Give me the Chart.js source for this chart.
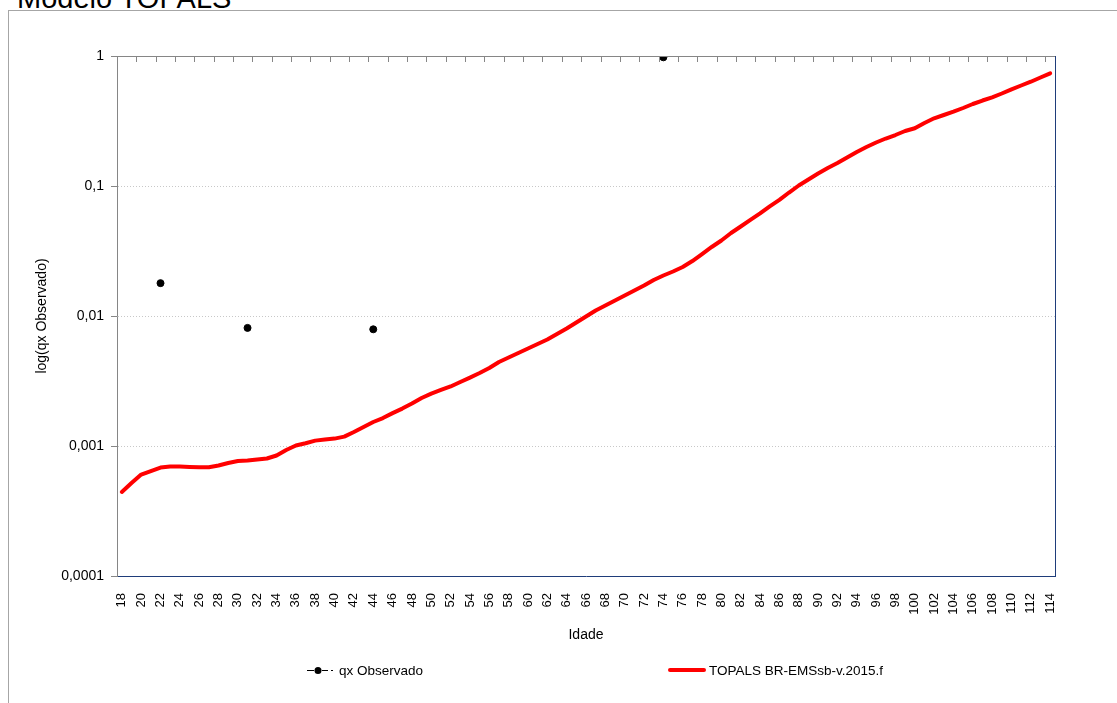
<!DOCTYPE html>
<html>
<head>
<meta charset="utf-8">
<script src="https://cdn.jsdelivr.net/npm/chart.js@4.4.1/dist/chart.umd.min.js"></script>
<style>
  html, body { margin: 0; padding: 0; background: #fff; overflow: hidden; }
  #wrap { position: absolute; left: 0; top: 0; width: 1117px; height: 703px; }
  #frame { position: absolute; left: 8px; top: 10px; width: 1300px; height: 900px; border: 1px solid #a6a6a6; }
  #title { position: absolute; left: 17px; top: -18px; font: 29px "Liberation Sans", Arial, sans-serif; color: #000; white-space: nowrap; }
  .leg { position: absolute; top: 661px; height: 18px; font: 13.5px "Liberation Sans", Arial, sans-serif; color: #000; display: flex; align-items: center; white-space: nowrap; }
  .leg svg { margin-right: 3px; }
</style>
</head>
<body>
<div id="frame"></div>
<div id="title">Modelo TOPALS</div>
<div id="wrap"><canvas id="chart"></canvas></div>
<div class="leg" style="left:306px"><svg width="30" height="10"><path d="M1 5.5H8 M16 5.5H22 M25 5.5H27" stroke="#000" stroke-width="1"/><circle cx="12" cy="5.5" r="3.5" fill="#000"/></svg>qx Observado</div>
<div class="leg" style="left:668px"><svg width="38" height="10"><path d="M2 5H36" stroke="#ff0000" stroke-width="4" stroke-linecap="round"/></svg>TOPALS BR-EMSsb-v.2015.f</div>
<script>
// idades 18..114
const ages = [18, 19, 20, 21, 22, 23, 24, 25, 26, 27, 28, 29, 30, 31, 32, 33, 34, 35, 36, 37,
  38, 39, 40, 41, 42, 43, 44, 45, 46, 47, 48, 49, 50, 51, 52, 53, 54, 55, 56, 57,
  58, 59, 60, 61, 62, 63, 64, 65, 66, 67, 68, 69, 70, 71, 72, 73, 74, 75, 76, 77,
  78, 79, 80, 81, 82, 83, 84, 85, 86, 87, 88, 89, 90, 91, 92, 93, 94, 95, 96, 97,
  98, 99, 100, 101, 102, 103, 104, 105, 106, 107, 108, 109, 110, 111, 112, 113, 114];

// qx observado (only a few ages)
const obsAges = [22, 31, 44, 74];
const obsQx = [0.0179, 0.0081, 0.0079, 0.977];

// TOPALS BR-EMSsb-v.2015.f
const topalsQx = [
  0.000443, 0.000519, 0.000603, 0.000642, 0.000683, 0.000696, 0.000696, 0.000690, 0.000686, 0.000686,
  0.000708, 0.000740, 0.000766, 0.000773, 0.000787, 0.000801, 0.000845, 0.000932, 0.00101, 0.00105,
  0.00110, 0.00112, 0.00114, 0.00118, 0.00128, 0.00140, 0.00153, 0.00164, 0.00179, 0.00194,
  0.00212, 0.00234, 0.00253, 0.00270, 0.00287, 0.00311, 0.00336, 0.00364, 0.00398, 0.00443,
  0.00480, 0.00519, 0.00562, 0.00609, 0.00660, 0.00727, 0.00801, 0.00891, 0.00991, 0.01102,
  0.01204, 0.01316, 0.01438, 0.01571, 0.01716, 0.01891, 0.02048, 0.02199, 0.02381, 0.02648,
  0.02998, 0.03395, 0.03809, 0.0435, 0.0488, 0.0548, 0.0615, 0.0696, 0.0781, 0.0891,
  0.1009, 0.1122, 0.1248, 0.1376, 0.1503, 0.1657, 0.1826, 0.1995, 0.2161, 0.2319,
  0.2467, 0.2648, 0.2779, 0.3052, 0.3317, 0.3517, 0.3728, 0.3981, 0.4273, 0.4546,
  0.4812, 0.5147, 0.5543, 0.5929, 0.6342, 0.6833, 0.7359];

const yTicks = [0.0001, 0.001, 0.01, 0.1, 1];

// top tick marks + right border, like the excel frame
const frameTicks = {
  id: 'frameTicks',
  afterDraw(chart) {
    const { ctx, chartArea: a } = chart;
    const step = (a.right - a.left) / ages.length;
    ctx.save();
    ctx.lineWidth = 1;
    ctx.strokeStyle = '#868686';
    ctx.beginPath();
    ctx.moveTo(a.left, Math.round(a.top) + 0.5);
    ctx.lineTo(a.right, Math.round(a.top) + 0.5);
    for (let k = 2; k < ages.length; k += 2) {
      const px = Math.round(a.left + k * step) + 0.5;
      ctx.moveTo(px, a.top);
      ctx.lineTo(px, a.top + 6);
    }
    ctx.stroke();
    ctx.strokeStyle = '#1f3d7a';
    ctx.beginPath();
    ctx.moveTo(Math.round(a.right) + 0.5, a.top);
    ctx.lineTo(Math.round(a.right) + 0.5, a.bottom);
    ctx.stroke();
    ctx.restore();
  }
};

Chart.defaults.font.family = '"Liberation Sans", Arial, sans-serif';
Chart.defaults.color = '#000';

const ctx = document.getElementById('chart').getContext('2d');
new Chart(ctx, {
  type: 'line',
  data: {
    labels: ages,
    datasets: [
      {
        label: 'qx Observado',
        data: obsAges.map((a, i) => ({ x: a, y: obsQx[i] })),
        showLine: false,
        pointRadius: 3.5,
        pointBackgroundColor: '#000',
        pointBorderColor: '#000',
        borderColor: '#000'
      },
      {
        label: 'TOPALS BR-EMSsb-v.2015.f',
        data: topalsQx,
        borderColor: '#ff0000',
        borderWidth: 4,
        pointRadius: 0,
        tension: 0,
        borderJoinStyle: 'round',
        borderCapStyle: 'round'
      }
    ]
  },
  options: {
    responsive: true,
    maintainAspectRatio: false,
    animation: false,
    layout: { padding: { left: 30, top: 56, right: 62, bottom: 45 } },
    plugins: {
      legend: { display: false },
      tooltip: { enabled: false }
    },
    scales: {
      x: {
        type: 'category',
        offset: true,
        grid: { display: false },
        border: { display: true, color: '#1f3d7a', width: 1 },
        ticks: {
          autoSkip: false,
          minRotation: 90,
          maxRotation: 90,
          padding: 9,
          font: { size: 13 },
          callback(value, index) {
            return index % 2 === 0 ? this.getLabelForValue(value) : '';
          }
        },
        title: { display: true, text: 'Idade', font: { size: 14 }, padding: { top: 4, bottom: 14 } },
        afterFit(scale) { scale.height = 82; }
      },
      y: {
        type: 'logarithmic',
        min: 0.0001,
        max: 1,
        afterBuildTicks(scale) { scale.ticks = yTicks.map(v => ({ value: v })); },
        grid: {
          color: c => (c.tick && (c.tick.value === 1 || c.tick.value === 0.0001)) ? 'rgba(0,0,0,0)' : '#c8c8c8',
          tickColor: '#868686',
          tickLength: 6
        },
        border: { display: true, color: '#868686', width: 1, dash: [1, 2] },
        ticks: {
          padding: 7,
          font: { size: 14 },
          callback: v => String(v).replace('.', ',')
        },
        title: { display: true, text: 'log(qx Observado)', font: { size: 14 }, padding: { top: 4, bottom: 4 } },
        afterFit(scale) { scale.width = 87; }
      }
    }
  },
  plugins: [frameTicks]
});
</script>
</body>
</html>
